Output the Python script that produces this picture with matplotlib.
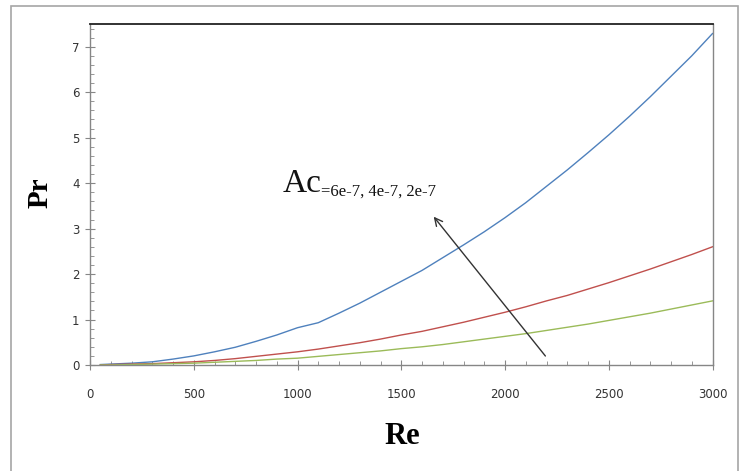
import matplotlib
matplotlib.use('Agg')
import matplotlib.pyplot as plt
from matplotlib.patches import Rectangle
from matplotlib.ticker import MultipleLocator

re_vals = [50, 100, 200, 300, 400, 500, 600, 700, 800, 900, 1000,
           1100, 1200, 1300, 1400, 1500, 1600, 1700, 1800, 1900, 2000,
           2100, 2200, 2300, 2400, 2500, 2600, 2700, 2800, 2900, 3000]
pr_ac6 = [0.01, 0.02, 0.04, 0.07, 0.13, 0.2, 0.29, 0.39, 0.52, 0.66, 0.82,
          0.93, 1.14, 1.36, 1.6, 1.84, 2.08, 2.36, 2.64, 2.93, 3.24,
          3.57, 3.93, 4.29, 4.67, 5.06, 5.47, 5.9, 6.35, 6.8, 7.29]
pr_ac4 = [0.0, 0.01, 0.02, 0.03, 0.05, 0.07, 0.1, 0.14, 0.19, 0.24, 0.29,
          0.35, 0.42, 0.49, 0.57, 0.66, 0.74, 0.84, 0.94, 1.05, 1.16,
          1.28, 1.41, 1.53, 1.67, 1.81, 1.96, 2.11, 2.27, 2.43, 2.6]
pr_ac2 = [0.0, 0.0, 0.01, 0.02, 0.03, 0.04, 0.06, 0.08, 0.1, 0.13, 0.15,
          0.19, 0.23, 0.27, 0.31, 0.36, 0.4, 0.45, 0.51, 0.57, 0.63,
          0.69, 0.76, 0.83, 0.9, 0.98, 1.06, 1.14, 1.23, 1.32, 1.41]

gray = '#868686'

fig = plt.figure(figsize=(7.42, 4.71), dpi=100)
fig.patches.append(Rectangle((11 / 742, -0.01), 727 / 742, 1 - 6 / 471 + 0.01,
                             transform=fig.transFigure, fill=False,
                             edgecolor='#a6a6a6', linewidth=1.2))
ax = fig.add_axes([90 / 742, 1 - 365 / 471, 622.5 / 742, 341 / 471])

ax.plot(re_vals, pr_ac6, color='#4F81BD', lw=1)
ax.plot(re_vals, pr_ac4, color='#C0504D', lw=1)
ax.plot(re_vals, pr_ac2, color='#9BBB59', lw=1)

ax.set_xlim(0, 3000)
ax.set_ylim(0, 7.5)
ax.xaxis.set_major_locator(MultipleLocator(500))
ax.xaxis.set_minor_locator(MultipleLocator(100))
ax.yaxis.set_major_locator(MultipleLocator(1))
ax.yaxis.set_minor_locator(MultipleLocator(0.2))

for s in ['left', 'bottom', 'right']:
    ax.spines[s].set_color(gray)
    ax.spines[s].set_linewidth(1)
ax.spines['top'].set_color('#222222')
ax.spines['top'].set_linewidth(1.3)

ax.tick_params(which='major', direction='inout', length=7, width=0.8,
               color=gray, labelsize=8.5, labelcolor='#333333')
ax.tick_params(which='minor', direction='in', length=3, width=0.6, color=gray)
ax.tick_params(axis='x', which='major', pad=13)
ax.tick_params(axis='y', which='major', pad=4)

fig.text(40 / 742, 1 - 193 / 471, 'Pr', rotation=90, ha='center', va='center',
         family='Liberation Serif', weight='bold', fontsize=21)
fig.text(402 / 742, 1 - 436 / 471, 'Re', ha='center', va='center',
         family='Liberation Serif', weight='bold', fontsize=22)

ax.annotate('', xy=(1648, 3.31), xytext=(2203, 0.15),
            arrowprops=dict(arrowstyle='->', color='#333333', lw=1,
                            mutation_scale=14))
t = ax.text(926, 3.8, 'Ac', family='Liberation Serif', fontsize=24,
            color='#111111', va='baseline')
fig.canvas.draw()
ax.annotate('=6e-7, 4e-7, 2e-7', xycoords=t, xy=(1, 0), va='bottom',
            family='Liberation Serif', fontsize=12, color='#111111')

fig.savefig('out.png', dpi=100)
